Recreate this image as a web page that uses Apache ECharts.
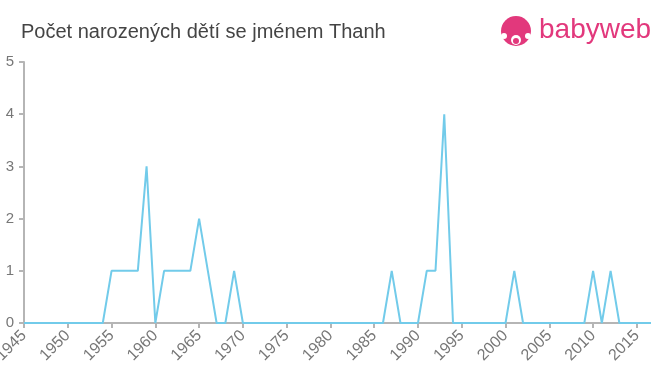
<!DOCTYPE html>
<html>
<head>
<meta charset="utf-8">
<script src="https://cdn.jsdelivr.net/npm/echarts@6/dist/echarts.min.js"></script>
<style>html,body{margin:0;padding:0;background:#fff}#c{width:660px;height:375px}</style>
</head>
<body>
<div id="c"></div>
<script>
var years = [];
for (var y = 1945; y <= 2017; y++) years.push(y);
var counts = [
  0,0,0,0,0, 0,0,0,0,0,   // 1945-1954
  1,1,1,1,3, 0,1,1,1,1,   // 1955-1964
  2,1,0,0,1, 0,0,0,0,0,   // 1965-1974
  0,0,0,0,0, 0,0,0,0,0,   // 1975-1984
  0,0,1,0,0, 0,1,1,4,0,   // 1985-1994
  0,0,0,0,0, 0,1,0,0,0,   // 1995-2004
  0,0,0,0,0, 1,0,1,0,0,   // 2005-2014
  0,0,0                   // 2015-2017
];
var xTicks = [1945,1950,1955,1960,1965,1970,1975,1980,1985,1990,1995,2000,2005,2010,2015];
var yTicks = [0,1,2,3,4,5];
var titleText = 'Počet narozených dětí se jménem Thanh';

var chart = echarts.init(document.getElementById('c'), null, {renderer:'canvas'});
var data = years.map(function(y,i){return [y, counts[i]];});
chart.setOption({
  animation:false,
  title:{text:titleText,left:16,top:17,textStyle:{fontFamily:'Liberation Sans, Arial',fontSize:20,fontWeight:'normal',color:'#444'}},
  grid:{left:24,right:10,top:62,bottom:52,containLabel:false,outerBoundsMode:'none'},
  xAxis:{type:'value',min:1945,max:2016.5,
    axisLine:{show:true,lineStyle:{color:'#b5b5b5',width:2}},
    axisTick:{show:true,length:5,customValues:xTicks,lineStyle:{color:'#b5b5b5',width:2}},
    axisLabel:{customValues:xTicks,rotate:45,color:'#777',fontSize:16,fontFamily:'Liberation Sans, Arial',margin:10,
      formatter:function(v){return String(v);}},
    splitLine:{show:false}},
  yAxis:{type:'value',min:0,max:5,interval:1,
    axisLine:{show:true,lineStyle:{color:'#b5b5b5',width:2}},
    axisTick:{show:true,length:5,lineStyle:{color:'#b5b5b5',width:2}},
    axisLabel:{customValues:yTicks,color:'#777',fontSize:15,fontFamily:'Liberation Sans, Arial',margin:10},
    splitLine:{show:false}},
  series:[{type:'line',data:data,symbol:'none',clip:true,
    lineStyle:{color:'#72cbea',width:2}}],
  graphic:[
    {type:'circle',shape:{cx:516,cy:31,r:15},style:{fill:'#e2387c'}},
    {type:'circle',shape:{cx:516,cy:40,r:5},style:{fill:'#fff'}},
    {type:'circle',shape:{cx:504,cy:36,r:3},style:{fill:'#fff'}},
    {type:'circle',shape:{cx:528,cy:36,r:3},style:{fill:'#fff'}},
    {type:'circle',shape:{cx:516,cy:41,r:3},style:{fill:'#e2387c'}},
    {type:'text',left:539,top:16,style:{text:'babyweb',fill:'#e2387c',font:'28px "Liberation Sans", Arial'}}
  ]
});
</script>
</body>
</html>
